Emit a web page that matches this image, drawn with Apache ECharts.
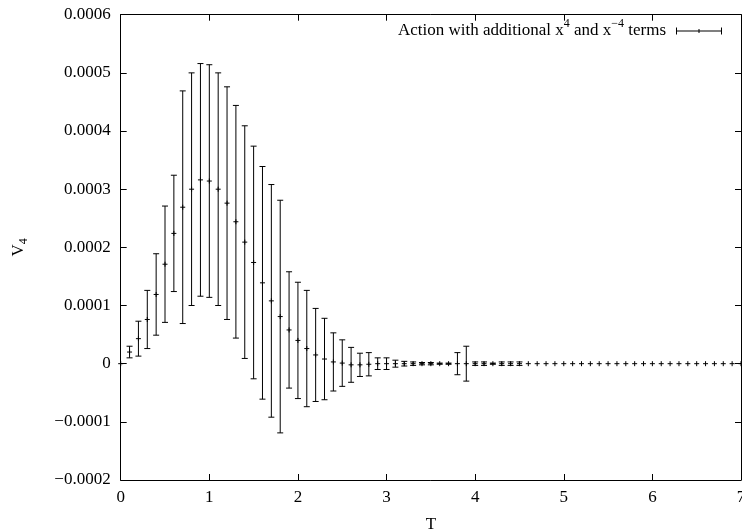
<!DOCTYPE html>
<html>
<head>
<meta charset="utf-8">
<script src="https://cdn.jsdelivr.net/npm/echarts@6/dist/echarts.min.js"></script>
<style>
  html, body { margin: 0; padding: 0; background: #fff; }
  #chart { width: 742px; height: 531px; }
</style>
</head>
<body>
<div id="chart"></div>
<script>
// Temperature grid
const temps = [
  0.0, 0.1, 0.2, 0.3, 0.4, 0.5, 0.6, 0.7, 0.8, 0.9,
  1.0, 1.1, 1.2, 1.3, 1.4, 1.5, 1.6, 1.7, 1.8, 1.9,
  2.0, 2.1, 2.2, 2.3, 2.4, 2.5, 2.6, 2.7, 2.8, 2.9,
  3.0, 3.1, 3.2, 3.3, 3.4, 3.5, 3.6, 3.7, 3.8, 3.9,
  4.0, 4.1, 4.2, 4.3, 4.4, 4.5, 4.6, 4.7, 4.8, 4.9,
  5.0, 5.1, 5.2, 5.3, 5.4, 5.5, 5.6, 5.7, 5.8, 5.9,
  6.0, 6.1, 6.2, 6.3, 6.4, 6.5, 6.6, 6.7, 6.8, 6.9,
  7.0
];

// Mean value of V4 at each temperature
const v4Mean = [
  0, 0.000020, 0.000043, 0.000076, 0.000119, 0.000171, 0.000224, 0.000269, 0.000300, 0.000316,
  0.000314, 0.000300, 0.000276, 0.000244, 0.000209, 0.000174, 0.000139, 0.000108, 0.000081, 0.000058,
  0.000040, 0.000026, 0.000015, 0.000008, 0.000003, 0.000001, -0.000002, -0.000002, -0.000001, 0,
  0, 0, 0, 0, 0, 0, 0, 0, 0, 0,
  0, 0, 0, 0, 0, 0, 0, 0, 0, 0,
  0, 0, 0, 0, 0, 0, 0, 0, 0, 0,
  0, 0, 0, 0, 0, 0, 0, 0, 0, 0,
  0
];

// Statistical error of V4 at each temperature
const v4Error = [
  0, 0.000010, 0.000030, 0.000050, 0.000070, 0.000100, 0.000100, 0.000200, 0.000200, 0.000200,
  0.000200, 0.000200, 0.000200, 0.000200, 0.000200, 0.000200, 0.000200, 0.000200, 0.000200, 0.000100,
  0.000100, 0.000100, 0.000080, 0.000070, 0.000050, 0.000040, 0.000030, 0.000020, 0.000020, 0.000010,
  0.000010, 0.000006, 0.000004, 0.000003, 0.000002, 0.000002, 0.000001, 0.000001, 0.000019, 0.000030,
  0.000003, 0.000003, 0.000001, 0.000003, 0.000003, 0.000003, 0, 0, 0, 0,
  0, 0, 0, 0, 0, 0, 0, 0, 0, 0,
  0, 0, 0, 0, 0, 0, 0, 0, 0, 0,
  0
];

const xTicks = { min: 0, max: 7, interval: 1 };
const yTicks = { min: -0.0002, max: 0.0006, interval: 0.0001 };

const seriesName = 'Action with additional x{sup|4} and x{sup|\u22124} terms';
const FONT = 'Liberation Serif';

const rows = temps.map((t, i) => [t, v4Mean[i], v4Error[i]]);

function yLabel(v) {
  if (Math.abs(v) < 1e-12) return '0';
  return (v < 0 ? '\u2212' : '') + Math.abs(v).toFixed(4);
}

function renderErrorPoint(params, api) {
  const t = api.value(0), m = api.value(1), e = api.value(2);
  const c = api.coord([t, m]);
  const style = { stroke: '#000', lineWidth: 1, fill: null };
  const kids = [];
  if (e > 0) {
    const hi = api.coord([t, m + e]);
    const lo = api.coord([t, m - e]);
    const cap = 3;
    kids.push({ type: 'line', shape: { x1: c[0], y1: hi[1], x2: c[0], y2: lo[1] }, style });
    kids.push({ type: 'line', shape: { x1: c[0] - cap, y1: hi[1], x2: c[0] + cap, y2: hi[1] }, style });
    kids.push({ type: 'line', shape: { x1: c[0] - cap, y1: lo[1], x2: c[0] + cap, y2: lo[1] }, style });
  }
  const s = 2.5;
  kids.push({ type: 'line', shape: { x1: c[0] - s, y1: c[1], x2: c[0] + s, y2: c[1] }, style });
  kids.push({ type: 'line', shape: { x1: c[0], y1: c[1] - s, x2: c[0], y2: c[1] + s }, style });
  return { type: 'group', children: kids };
}

const tickStyle = { show: true, inside: true, length: 6, lineStyle: { color: '#000', width: 1 } };
const lineStyle = { show: true, onZero: false, lineStyle: { color: '#000', width: 1 } };

const chart = echarts.init(document.getElementById('chart'), null, { renderer: 'canvas' });
chart.setOption({
  animation: false,
  backgroundColor: '#fff',
  textStyle: { fontFamily: FONT },
  grid: { left: 120.7, top: 14.7, right: 1, bottom: 51, containLabel: false, outerBoundsMode: 'none' },
  legend: {
    right: 15,
    top: 13,
    align: 'right',
    itemWidth: 46,
    itemHeight: 7,
    data: [{
      name: seriesName,
      icon: 'path://M0,0h1v7h-1z M0,3h46v1h-46z M45,0h1v7h-1z M22.5,1.5h1v4h-1z'
    }],
    itemStyle: { color: '#000' },
    textStyle: {
      fontFamily: FONT, fontSize: 17, color: '#000', padding: [0, 5, 0, 0],
      lineHeight: 26,
      rich: { sup: { fontFamily: FONT, fontSize: 12, lineHeight: 12, verticalAlign: 'top', color: '#000' } }
    }
  },
  xAxis: [{
    type: 'value', position: 'bottom', ...xTicks,
    name: 'T', nameLocation: 'middle', nameGap: 36,
    nameTextStyle: { fontFamily: FONT, fontSize: 17, color: '#000' },
    axisLine: lineStyle, axisTick: tickStyle, splitLine: { show: false },
    axisLabel: { margin: 9, fontFamily: FONT, fontSize: 17, color: '#000', showMaxLabel: true, showMinLabel: true }
  }, {
    type: 'value', position: 'top', ...xTicks,
    axisLine: lineStyle, axisTick: tickStyle, splitLine: { show: false },
    axisLabel: { show: false }
  }],
  yAxis: [{
    type: 'value', position: 'left', ...yTicks,
    name: 'V{sub|4}', nameLocation: 'middle', nameGap: 91, nameRotate: 90,
    nameTextStyle: {
      fontFamily: FONT, fontSize: 17, color: '#000', lineHeight: 22,
      rich: { sub: { fontFamily: FONT, fontSize: 12, lineHeight: 12, verticalAlign: 'bottom', color: '#000' } }
    },
    axisLine: lineStyle, axisTick: tickStyle, splitLine: { show: false },
    axisLabel: { margin: 10, fontFamily: FONT, fontSize: 17, color: '#000', formatter: yLabel }
  }, {
    type: 'value', position: 'right', ...yTicks,
    axisLine: lineStyle, axisTick: tickStyle, splitLine: { show: false },
    axisLabel: { show: false }
  }],
  series: [{
    name: seriesName,
    type: 'custom',
    xAxisIndex: 0,
    yAxisIndex: 0,
    data: rows,
    encode: { x: 0, y: 1 },
    itemStyle: { color: '#000' },
    renderItem: renderErrorPoint,
    clip: false
  }]
});
</script>
</body>
</html>
